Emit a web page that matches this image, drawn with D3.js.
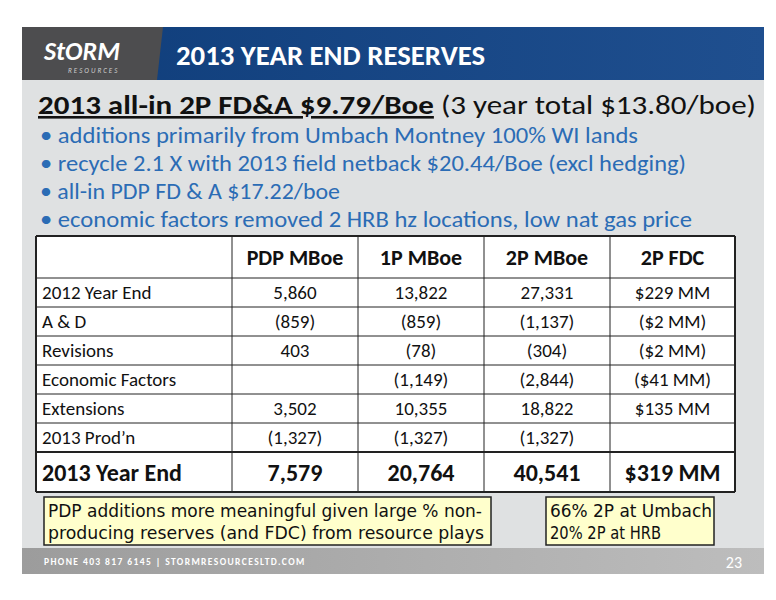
<!DOCTYPE html>
<html><head><meta charset="utf-8">
<script src="https://cdn.jsdelivr.net/npm/d3@7"></script>
<style>body{margin:0;background:#fff}</style></head>
<body><svg id="slide" width="776" height="600"></svg>
<script>
const columns = ["", "PDP MBoe", "1P MBoe", "2P MBoe", "2P FDC"];
const rowLabels = ["2012 Year End", "A & D", "Revisions", "Economic Factors", "Extensions", "2013 Prod’n", "2013 Year End"];
const pdp = ["5,860", "(859)", "403", "", "3,502", "(1,327)", "7,579"];
const p1 = ["13,822", "(859)", "(78)", "(1,149)", "10,355", "(1,327)", "20,764"];
const p2 = ["27,331", "(1,137)", "(304)", "(2,844)", "18,822", "(1,327)", "40,541"];
const fdc = ["$229 MM", "($2 MM)", "($2 MM)", "($41 MM)", "$135 MM", "", "$319 MM"];
const bullets = [
  "additions primarily from Umbach Montney 100% WI lands",
  "recycle 2.1 X with 2013 field netback $20.44/Boe (excl hedging)",
  "all-in PDP FD & A $17.22/boe",
  "economic factors removed 2 HRB hz locations, low nat gas price"
];

const svg = d3.select("#slide");
const font = "Calibri, Carlito, 'Open Sans', sans-serif";

// backgrounds
svg.append("rect").attr("x", 22).attr("y", 80).attr("width", 742).attr("height", 468).attr("fill", "#dfe1e2");
const defs = svg.append("defs");
const g1 = defs.append("linearGradient").attr("id", "hdr");
g1.append("stop").attr("offset", "0").attr("stop-color", "#0f3d7a");
g1.append("stop").attr("offset", "1").attr("stop-color", "#1f4f8f");
const g2 = defs.append("linearGradient").attr("id", "ftr");
g2.append("stop").attr("offset", "0").attr("stop-color", "#9c9c9c");
g2.append("stop").attr("offset", "1").attr("stop-color", "#bdbdbd");
svg.append("rect").attr("x", 22).attr("y", 27).attr("width", 742).attr("height", 53).attr("fill", "url(#hdr)");
svg.append("path").attr("d", "M22,27H163L157,80H22Z").attr("fill", "#4d4d4f");
svg.append("text").attr("x", 44).attr("y", 60).attr("fill", "#fff").attr("font-family", font)
  .attr("font-size", 26).attr("font-weight", "bold").attr("font-style", "italic").text("StORM");
svg.append("text").attr("x", 68).attr("y", 73).attr("fill", "#ccc").attr("font-family", font)
  .attr("font-size", 7).attr("letter-spacing", 2).attr("font-style", "italic").text("RESOURCES");
svg.append("text").attr("x", 176).attr("y", 65).attr("fill", "#fff").attr("font-family", font)
  .attr("font-size", 28).attr("font-weight", "bold").attr("textLength", 309).attr("lengthAdjust", "spacingAndGlyphs")
  .text("2013 YEAR END RESERVES");
svg.append("rect").attr("x", 22).attr("y", 548).attr("width", 742).attr("height", 26).attr("fill", "url(#ftr)");
svg.append("text").attr("x", 44).attr("y", 565).attr("fill", "#fff").attr("font-family", font)
  .attr("font-size", 9.5).attr("font-weight", "bold").attr("letter-spacing", 1.4)
  .text("PHONE 403 817 6145   |   STORMRESOURCESLTD.COM");
svg.append("text").attr("x", 742).attr("y", 568).attr("text-anchor", "end").attr("fill", "#fff")
  .attr("font-family", font).attr("font-size", 16).text("23");

// title
const t = svg.append("text").attr("x", 38).attr("y", 114).attr("font-family", font).attr("font-size", 26)
  .attr("fill", "#111").attr("textLength", 718).attr("lengthAdjust", "spacingAndGlyphs");
t.append("tspan").attr("font-weight", "bold").attr("text-decoration", "underline").text("2013 all-in 2P FD&A $9.79/Boe");
t.append("tspan").text(" (3 year total $13.80/boe)");
const bulLen = [598, 646, 300, 652];
svg.selectAll("text.bul").data(bullets).join("text").attr("class", "bul")
  .attr("x", 40).attr("y", (d, i) => 143 + i * 28).attr("font-family", font).attr("font-size", 22)
  .attr("textLength", (d, i) => bulLen[i]).attr("lengthAdjust", "spacingAndGlyphs")
  .attr("fill", "#2b6cb5").text(d => "• " + d);

// table
const x = d3.scaleOrdinal().domain(d3.range(5)).range([36, 232, 358, 484, 610]);
const colW = [196, 126, 126, 126, 125];
const rowY = [236, 278, 307, 336, 365, 394, 423, 452, 492];
const tbl = svg.append("g");
tbl.append("rect").attr("x", 36).attr("y", 236).attr("width", 699).attr("height", 256).attr("fill", "#fff");
const cells = [columns].concat(rowLabels.map((r, i) => [r, pdp[i], p1[i], p2[i], fdc[i]]));
cells.forEach((row, ri) => {
  const y0 = rowY[ri], y1 = rowY[ri + 1];
  const bold = ri === 0 || ri === 7;
  const size = ri === 0 ? 22 : ri === 7 ? 24 : 19;
  row.forEach((v, ci) => {
    tbl.append("text").attr("x", ci === 0 ? x(ci) + 6 : x(ci) + colW[ci] / 2)
      .attr("y", (y0 + y1) / 2 + size * 0.36).attr("text-anchor", ci === 0 ? "start" : "middle")
      .attr("font-family", font).attr("font-size", size).attr("font-weight", bold ? "bold" : "normal")
      .attr("fill", "#111").text(v);
  });
});
rowY.forEach((y, i) => tbl.append("line").attr("x1", 36).attr("x2", 735).attr("y1", y).attr("y2", y)
  .attr("stroke", "#222").attr("stroke-width", i === 0 || i === 7 || i === 8 ? 2 : 1));
[36, 232, 358, 484, 610, 735].forEach((xx, i) => tbl.append("line").attr("x1", xx).attr("x2", xx)
  .attr("y1", 236).attr("y2", 492).attr("stroke", "#222").attr("stroke-width", i === 0 || i === 5 ? 2 : 1));

// notes
const notes = [
  {x: 44, w: 447, lines: ["PDP additions more meaningful given large % non-", "producing reserves (and FDC) from resource plays"], len: [434, 436]},
  {x: 546, w: 168, lines: ["66% 2P at Umbach", "20% 2P at HRB"], len: [162, 111]}
];
notes.forEach(n => {
  svg.append("rect").attr("x", n.x).attr("y", 497).attr("width", n.w).attr("height", 48)
    .attr("fill", "#ffffcc").attr("stroke", "#222").attr("stroke-width", 1.5);
  n.lines.forEach((l, i) => svg.append("text").attr("x", n.x + 4).attr("y", 517 + i * 22)
    .attr("font-family", "'Comic Sans MS', 'DejaVu Sans Condensed', sans-serif").attr("font-size", 18)
    .attr("fill", "#111").attr("textLength", n.len[i]).attr("lengthAdjust", "spacingAndGlyphs").text(l));
});
</script></body></html>
